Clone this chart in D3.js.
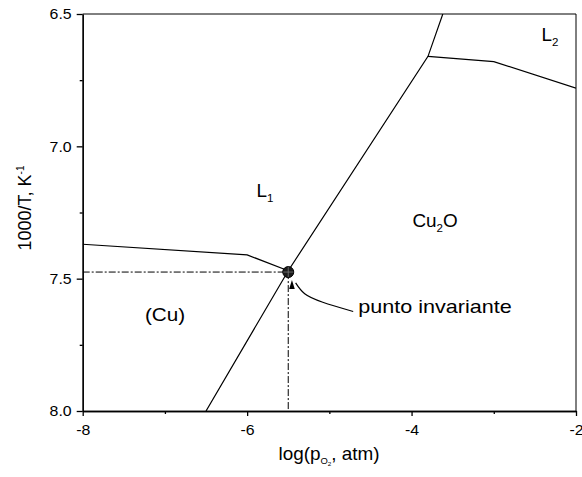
<!DOCTYPE html>
<html><head><meta charset="utf-8">
<script src="https://cdn.jsdelivr.net/npm/d3@7"></script>
<style>body{margin:0;background:#fff} text{font-family:"Liberation Sans",Arial,sans-serif;fill:#000}</style>
</head><body>
<svg id="c" width="582" height="477"></svg>
<script>
const xTicks=[-8,-6,-4,-2];
const xMinor=[-7,-5,-3];
const yTicks=[6.5,7.0,7.5,8.0];
const yMinor=[6.75,7.25,7.75];
const steepX=[-6.5,-5.5,-3.8,-3.62];
const steepY=[8.0,7.47,6.66,6.5];
const cuX=[-8,-6,-5.5];
const cuY=[7.37,7.41,7.47];
const l2X=[-3.8,-3.0,-2];
const l2Y=[6.66,6.68,6.78];
const invX=-5.5, invY=7.475;
const leaderX=[-5.41,-5.30,-5.08,-4.71];
const leaderY=[7.516,7.557,7.589,7.624];
const arrowTip=[-5.455,7.505];
const regionText=["L","Cu","L","(Cu)","punto invariante"];
const regionSub=["1","2","2","",""];
const regionAfter=["","O","","",""];
const regionX=[-5.885,-3.99,-2.42,-7.243,-4.649];
const regionY=[7.19,7.306,6.602,7.659,7.63];

const svg=d3.select("#c");
const x=d3.scaleLinear().domain([-8,-2]).range([82.7,576]);
const y=d3.scaleLinear().domain([6.5,8.0]).range([14,411]);
const g=svg.append("g");

// frame top/right
g.append("line").attr("x1",x(-8)).attr("x2",x(-2)).attr("y1",y(6.5)).attr("y2",y(6.5)).attr("stroke","#000").attr("stroke-width",1);
g.append("line").attr("x1",x(-2)).attr("x2",x(-2)).attr("y1",y(6.5)).attr("y2",y(8)).attr("stroke","#000").attr("stroke-width",1);

// axes
const xa=g.append("g").attr("transform",`translate(0,${y(8)})`)
 .call(d3.axisBottom(x).tickValues(xTicks).tickFormat(d3.format("d")).tickSize(5).tickSizeOuter(0).tickPadding(6));
const xm=g.append("g").attr("transform",`translate(0,${y(8)})`)
 .call(d3.axisBottom(x).tickValues(xMinor).tickFormat("").tickSize(3).tickSizeOuter(0));
const ya=g.append("g").attr("transform",`translate(${x(-8)},0)`)
 .call(d3.axisLeft(y).tickValues(yTicks).tickFormat(d3.format(".1f")).tickSize(6).tickSizeOuter(0).tickPadding(5));
const ym=g.append("g").attr("transform",`translate(${x(-8)},0)`)
 .call(d3.axisLeft(y).tickValues(yMinor).tickFormat("").tickSize(3).tickSizeOuter(0));
[xa,xm,ya,ym].forEach(a=>{a.selectAll("path,line").attr("stroke","#000").attr("stroke-width",1.3);
 a.selectAll("text").style("font-size","15px").style("font-family","'Liberation Sans',Arial,sans-serif")
  .attr("transform","scale(1.06,1)");});
xa.selectAll("text").attr("dy","0.9em");
xa.selectAll("text").text(d=>d3.format("d")(d).replace("−","-"));
// keep scaled tick labels anchored at tick positions
xa.selectAll(".tick text").attr("transform",null).attr("transform","scale(1.06,1)").attr("x",0);
ya.selectAll(".tick text").attr("transform","scale(1.06,1)").attr("x",-11/1.06);

svg.append("clipPath").attr("id","clip").append("rect")
 .attr("x",x(-8)).attr("y",y(6.5)).attr("width",x(-2)-x(-8)).attr("height",y(8)-y(6.5));
const plot=g.append("g").attr("clip-path","url(#clip)");
function draw(xs,ys,curve){
 const l=d3.line().x(d=>x(d[0])).y(d=>y(d[1])).curve(curve||d3.curveLinear);
 plot.append("path").attr("d",l(xs.map((v,i)=>[v,ys[i]]))).attr("fill","none").attr("stroke","#000").attr("stroke-width",1.2);
}
draw(steepX,steepY);
draw(cuX,cuY);
draw(l2X,l2Y);
draw(leaderX,leaderY,d3.curveNatural);

// dash-dot guides
plot.append("line").attr("x1",x(-8)).attr("x2",x(invX)).attr("y1",y(invY)).attr("y2",y(invY))
 .attr("stroke","#000").attr("stroke-width",1).attr("stroke-dasharray","7,2,2,2");
plot.append("line").attr("x1",x(invX)).attr("x2",x(invX)).attr("y1",y(invY)).attr("y2",y(8))
 .attr("stroke","#000").attr("stroke-width",1).attr("stroke-dasharray","7,2,2,2");

// arrow head
const tx=x(arrowTip[0]), ty=y(arrowTip[1]);
plot.append("path").attr("d",`M${tx},${ty}L${tx+2.8},${ty+9}L${tx-2.8},${ty+9}Z`).attr("fill","#000");

// invariant point
const px=x(invX), py=y(invY);
plot.append("circle").attr("cx",px).attr("cy",py).attr("r",5.5).attr("fill","#1a1a1a").attr("stroke","#000");
plot.append("line").attr("x1",px-5).attr("x2",px+5).attr("y1",py).attr("y2",py).attr("stroke","#777").attr("stroke-width",0.8);
plot.append("line").attr("x1",px).attr("x2",px).attr("y1",py-5).attr("y2",py+5).attr("stroke","#777").attr("stroke-width",0.8);

// region labels
regionText.forEach((t,i)=>{
 const sx = t.length>6 ? 1.2 : (t==="(Cu)" ? 1.15 : 1.05);
 const tt=g.append("text").attr("transform",`translate(${x(regionX[i])},${y(regionY[i])}) scale(${sx},1)`).style("font-size","18px");
 tt.append("tspan").text(t);
 if(regionSub[i]){
  tt.append("tspan").text(regionSub[i]).style("font-size","11px").attr("dy",5);
  if(regionAfter[i]) tt.append("tspan").text(regionAfter[i]).attr("dy",-5);
 }
});

// axis titles
const xt=g.append("text").attr("transform","translate(329,460) scale(1.05,1)").attr("text-anchor","middle").style("font-size","18px");
xt.append("tspan").text("log(p");
xt.append("tspan").text("O").style("font-size","9px").attr("dy",4);
xt.append("tspan").text("2").style("font-size","6px").attr("dy",2);
xt.append("tspan").text(", atm)").attr("dy",-6);

const yt=g.append("text").attr("transform","translate(31,208) rotate(-90)").attr("text-anchor","middle").style("font-size","18px");
yt.append("tspan").text("1000/T, K");
yt.append("tspan").text("-1").style("font-size","10px").attr("dy",-7);
</script>
</body></html>
